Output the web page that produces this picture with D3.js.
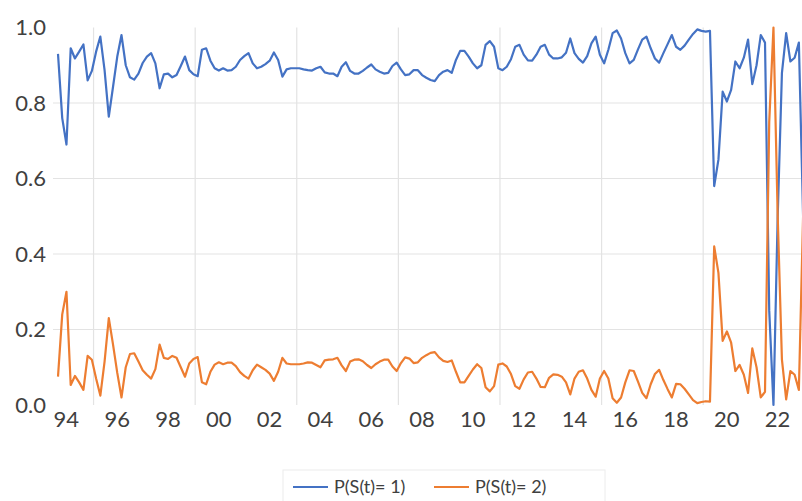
<!DOCTYPE html>
<html>
<head>
<meta charset="utf-8">
<script src="https://cdn.jsdelivr.net/npm/d3@7/dist/d3.min.js"></script>
<style>
  body { margin: 0; background: #fff; }
  text { font-family: Lato, "Open Sans", sans-serif; }
</style>
</head>
<body>
<div id="chart"></div>
<script>
// bimonthly readings starting Jan 1994
var startYear = 1994;
var stepYears = 1 / 6;

var probState1 = [
  0.93, 0.76, 0.69, 0.945, 0.918, 0.936, 0.955, 0.86, 0.885, 0.936,
  0.976, 0.887, 0.764, 0.843, 0.923, 0.98, 0.90, 0.868, 0.862, 0.878,
  0.906, 0.923, 0.932, 0.905, 0.839, 0.876, 0.878, 0.868, 0.874, 0.898,
  0.923, 0.887, 0.876, 0.871, 0.941, 0.945, 0.912, 0.892, 0.886, 0.892,
  0.886, 0.887, 0.896, 0.914, 0.924, 0.932, 0.905, 0.892, 0.896, 0.903,
  0.912, 0.934, 0.914, 0.870, 0.889, 0.892, 0.892, 0.892, 0.889, 0.887,
  0.886, 0.892, 0.896, 0.881, 0.878, 0.878, 0.871, 0.896, 0.908, 0.885,
  0.878, 0.878, 0.885, 0.894, 0.902, 0.889, 0.883, 0.878, 0.880, 0.898,
  0.907, 0.889, 0.874, 0.876, 0.887, 0.887, 0.874, 0.867, 0.861, 0.858,
  0.874, 0.883, 0.887, 0.880, 0.914, 0.938, 0.938, 0.923, 0.905, 0.892,
  0.900, 0.954, 0.964, 0.949, 0.892, 0.887, 0.896, 0.916, 0.949, 0.954,
  0.928, 0.913, 0.912, 0.928, 0.949, 0.954, 0.928, 0.918, 0.918, 0.921,
  0.933, 0.971, 0.932, 0.917, 0.907, 0.924, 0.958, 0.976, 0.928, 0.905,
  0.941, 0.985, 0.992, 0.971, 0.932, 0.905, 0.914, 0.942, 0.968, 0.976,
  0.945, 0.918, 0.907, 0.932, 0.956, 0.980, 0.949, 0.941, 0.952, 0.968,
  0.983, 0.995, 0.991, 0.989, 0.991, 0.58, 0.65, 0.83, 0.804, 0.835,
  0.91, 0.892, 0.92, 0.968, 0.85, 0.90, 0.98, 0.96, 0.25, 0.0,
  0.5, 0.88, 0.985, 0.91, 0.92, 0.96, 0.5
];

var probState2 = [
  0.075, 0.24, 0.30, 0.053, 0.077, 0.06, 0.04, 0.13, 0.12, 0.07,
  0.025, 0.115, 0.23, 0.16, 0.085, 0.02, 0.10, 0.135, 0.137, 0.115,
  0.092, 0.08, 0.07, 0.095, 0.16, 0.125, 0.122, 0.13, 0.125, 0.10,
  0.075, 0.11, 0.122, 0.127, 0.06, 0.055, 0.088, 0.107, 0.113, 0.108,
  0.112, 0.112, 0.103, 0.087, 0.077, 0.07, 0.092, 0.107, 0.10, 0.093,
  0.083, 0.064, 0.088, 0.125, 0.11, 0.108, 0.108, 0.108, 0.11, 0.113,
  0.112, 0.106, 0.10, 0.118, 0.12, 0.121, 0.125, 0.105, 0.09, 0.115,
  0.12, 0.121, 0.116, 0.106, 0.098, 0.108, 0.115, 0.12, 0.12, 0.102,
  0.09, 0.111, 0.126, 0.123, 0.111, 0.113, 0.125, 0.132, 0.138, 0.14,
  0.126, 0.117, 0.114, 0.118, 0.088, 0.06, 0.06, 0.077, 0.094, 0.108,
  0.098, 0.047, 0.036, 0.05, 0.107, 0.11, 0.102, 0.082, 0.05, 0.043,
  0.068, 0.086, 0.088, 0.07, 0.048, 0.047, 0.072, 0.081, 0.08, 0.075,
  0.06, 0.028, 0.07, 0.088, 0.092, 0.07, 0.04, 0.022, 0.07, 0.09,
  0.07, 0.018, 0.006, 0.02, 0.06, 0.092, 0.09, 0.062, 0.032, 0.018,
  0.055, 0.082, 0.093, 0.066, 0.042, 0.02, 0.056, 0.055, 0.043, 0.028,
  0.013, 0.005, 0.008, 0.01, 0.009, 0.42, 0.35, 0.17, 0.195, 0.165,
  0.09, 0.106, 0.08, 0.032, 0.15, 0.10, 0.02, 0.035, 0.75, 1.0,
  0.5, 0.12, 0.015, 0.09, 0.08, 0.04, 0.5
];

var seriesNames = ["P(S(t)= 1)", "P(S(t)= 2)"];
var seriesColors = ["#4472C4", "#ED7D31"];

var yTickValues = [0, 0.2, 0.4, 0.6, 0.8, 1.0];
var yGridValues = [0.2, 0.4, 0.6, 0.8];
var xLabelYears = [1994, 1996, 1998, 2000, 2002, 2004, 2006, 2008, 2010, 2012, 2014, 2016, 2018, 2020, 2022];
var xGridYears = [1995, 1999, 2003, 2007, 2011, 2015, 2019];
var labelShift = 0.31;
var gridShift = 0.4;

var svgWidth = 802;
var svgHeight = 501;

var svg = d3.select("#chart")
  .append("svg")
  .attr("width", svgWidth)
  .attr("height", svgHeight)
  .style("display", "block");

svg.append("rect")
  .attr("width", svgWidth)
  .attr("height", svgHeight)
  .attr("fill", "#fff");

var xScale = d3.scaleLinear()
  .domain([1994, 2023.29])
  .range([58, 802]);

var yScale = d3.scaleLinear()
  .domain([0, 1])
  .range([405, 27.5]);

// gridlines
svg.append("g").selectAll("line.h")
  .data(yGridValues)
  .enter()
  .append("line")
  .attr("x1", 53)
  .attr("x2", svgWidth)
  .attr("y1", d => yScale(d))
  .attr("y2", d => yScale(d))
  .attr("stroke", "#e3e3e3")
  .attr("stroke-width", 1.2);

svg.append("g").selectAll("line.v")
  .data(xGridYears)
  .enter()
  .append("line")
  .attr("x1", d => xScale(d + gridShift))
  .attr("x2", d => xScale(d + gridShift))
  .attr("y1", yScale(1))
  .attr("y2", yScale(0))
  .attr("stroke", "#e3e3e3")
  .attr("stroke-width", 1.2);

// axes
var yAxis = d3.axisLeft(yScale)
  .tickValues(yTickValues)
  .tickFormat(d3.format(".1f"))
  .tickSize(0)
  .tickPadding(0);

var yAxisG = svg.append("g")
  .attr("transform", "translate(46,0)")
  .call(yAxis);
yAxisG.select(".domain").remove();
yAxisG.selectAll("text")
  .style("font-size", "22px")
  .style("font-family", "Lato, sans-serif")
  .attr("fill", "#404040");

var xAxis = d3.axisBottom(xScale)
  .tickValues(xLabelYears.map(d => d + labelShift))
  .tickFormat(d => String(Math.round(d - labelShift) % 100).padStart(2, "0"))
  .tickSize(0)
  .tickPadding(6);

var xAxisG = svg.append("g")
  .attr("transform", "translate(0,405)")
  .call(xAxis);
xAxisG.select(".domain").remove();
xAxisG.selectAll("text")
  .style("font-size", "22px")
  .style("font-family", "Lato, sans-serif")
  .attr("fill", "#404040");

// series
var seriesData = [probState1, probState2].map(function (vals, i) {
  return {
    name: seriesNames[i],
    color: seriesColors[i],
    values: vals.map((v, k) => ({ t: startYear + k * stepYears, v: v }))
  };
});

var line = d3.line()
  .x(d => xScale(d.t))
  .y(d => yScale(d.v));

svg.append("g").selectAll("path")
  .data(seriesData)
  .enter()
  .append("path")
  .attr("d", d => line(d.values))
  .attr("fill", "none")
  .attr("stroke", d => d.color)
  .attr("stroke-width", 2.2)
  .attr("stroke-linejoin", "round");

// legend
var legend = svg.append("g");
legend.append("rect")
  .attr("x", 283)
  .attr("y", 470)
  .attr("width", 322)
  .attr("height", 34)
  .attr("fill", "none")
  .attr("stroke", "#ececec");

var legendItems = legend.selectAll("g.item")
  .data(seriesData)
  .enter()
  .append("g")
  .attr("transform", (d, i) => `translate(${293 + i * 141}, 487)`);

legendItems.append("line")
  .attr("x1", 0)
  .attr("x2", 35)
  .attr("stroke", d => d.color)
  .attr("stroke-width", 2.2);

legendItems.append("text")
  .attr("x", 41)
  .attr("dy", "0.35em")
  .style("font-size", "18px")
  .attr("fill", "#404040")
  .text(d => d.name);
</script>
</body>
</html>
